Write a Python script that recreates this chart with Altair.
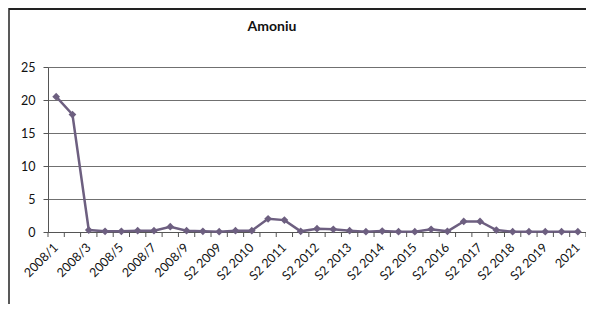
import altair as alt
import pandas as pd

categories = [
    "2008/1", "2008/2", "2008/3", "2008/4", "2008/5", "2008/6", "2008/7", "2008/8",
    "2008/9", "2008/10", "S2 2009", "S1 2010", "S2 2010", "S1 2011", "S2 2011",
    "S1 2012", "S2 2012", "S1 2013", "S2 2013", "S1 2014", "S2 2014", "S1 2015",
    "S2 2015", "S1 2016", "S2 2016", "S1 2017", "S2 2017", "S1 2018", "S2 2018",
    "S1 2019", "S2 2019", "2020", "2021",
]
values = [
    20.5, 17.8, 0.3, 0.1, 0.1, 0.2, 0.2, 0.8,
    0.2, 0.1, 0.05, 0.2, 0.2, 2.0, 1.8,
    0.1, 0.5, 0.4, 0.2, 0.05, 0.15, 0.05,
    0.05, 0.4, 0.1, 1.6, 1.6, 0.3, 0.05,
    0.05, 0.05, 0.05, 0.05,
]
tick_labels = categories[::2]
y_ticks = [0, 5, 10, 15, 20, 25]
title_text = "Amoniu"

df = pd.DataFrame({"cat": categories, "val": values})

W, H = 538, 165
FONT = "Lato"
LINE_COLOR = "#6d5f80"

xscale = alt.Scale(type="band", domain=categories, paddingInner=0, paddingOuter=0)

line = alt.Chart(df).mark_line(
    color=LINE_COLOR, strokeWidth=2.5,
    point=alt.OverlayMarkDef(shape="diamond", size=60, filled=True, color=LINE_COLOR),
).encode(
    x=alt.X("cat:N", scale=xscale, bandPosition=0.5, sort=categories,
            axis=alt.Axis(values=tick_labels, labelAngle=-45, labelAlign="right",
                          labelBaseline="middle", ticks=False, labelPadding=13,
                          labelFontSize=12.5, labelFont=FONT, labelColor="#111",
                          domainColor="#555", domainWidth=1.2, title=None,
                          labelOverlap=False, grid=False)),
    y=alt.Y("val:Q", scale=alt.Scale(domain=[0, 25], nice=False),
            axis=alt.Axis(values=y_ticks, grid=True, gridColor="#707070", gridWidth=1,
                          tickSize=5, tickColor="#555", domainColor="#555",
                          labelFontSize=12.5, labelFont=FONT, labelColor="#111",
                          labelPadding=8, title=None)),
)

xticks = alt.Chart(df).mark_rule(color="#555", strokeWidth=1).encode(
    x=alt.X("cat:N", scale=xscale, bandPosition=0, sort=categories),
    y=alt.value(H), y2=alt.value(H + 5),
)
last_tick = alt.Chart(df.head(1)).mark_rule(color="#555", strokeWidth=1).encode(
    x=alt.value(W), y=alt.value(H), y2=alt.value(H + 5),
)

title = alt.Chart(df.head(1)).mark_text(
    font=FONT, fontSize=14, fontWeight="bold", color="#111",
).encode(x=alt.value(224), y=alt.value(-40), text=alt.value(title_text))

border_left = alt.Chart(df.head(1)).mark_rule(color="#222", strokeWidth=1.5).encode(
    x=alt.value(-39), y=alt.value(-59), y2=alt.value(H + 80),
)
border_top = alt.Chart(df.head(1)).mark_rule(color="#222", strokeWidth=2).encode(
    x=alt.value(-39), x2=alt.value(W), y=alt.value(-58),
)

chart = alt.layer(line, xticks, last_tick, title, border_left, border_top).properties(
    width=W, height=H,
    autosize=alt.AutoSizeParams(type="none"),
    padding={"left": 40, "top": 59, "right": 0, "bottom": 72},
).configure_view(stroke=None).configure(background="white")

chart.save("out.html", embed_options={"renderer": "svg", "actions": False})
